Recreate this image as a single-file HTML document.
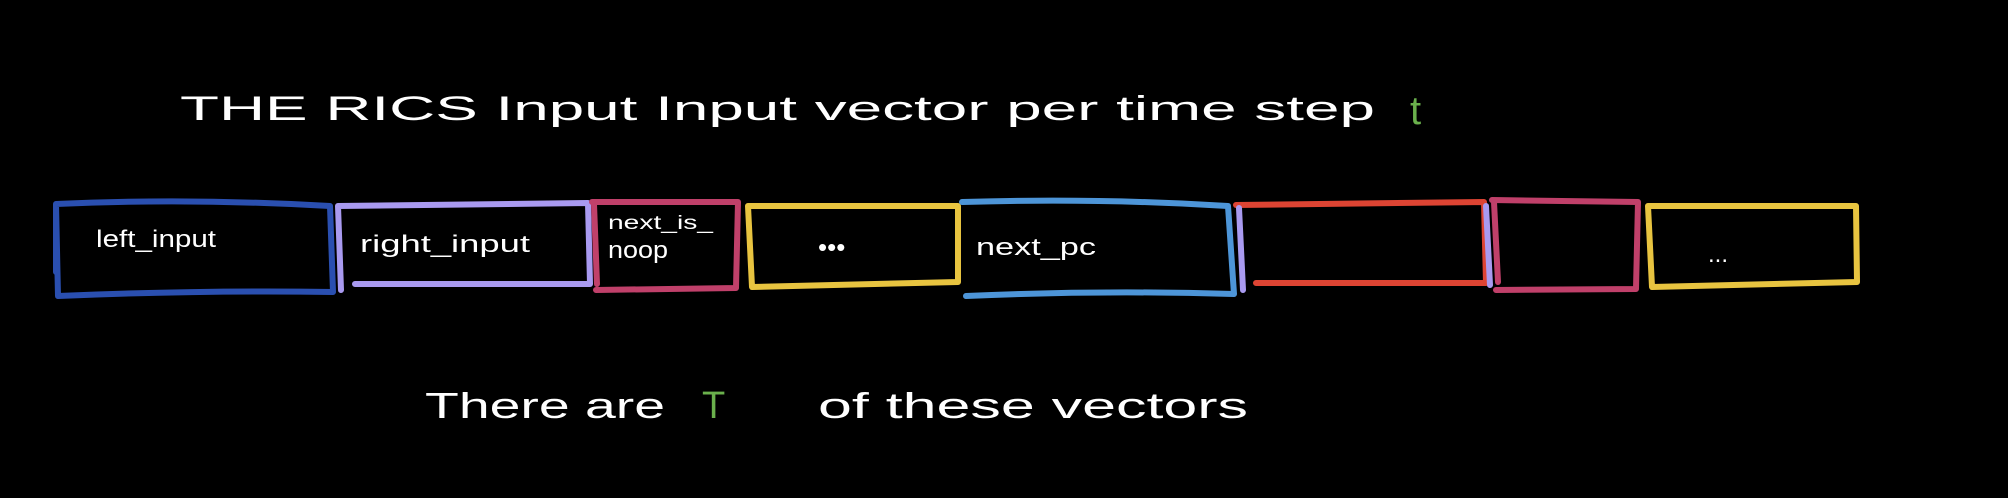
<!DOCTYPE html>
<html><head><meta charset="utf-8"><style>
html,body{margin:0;padding:0;background:#000;}
svg{display:block}
text{font-family:"Liberation Sans",sans-serif;fill:#fff;}
</style></head><body>
<svg width="2008" height="498" viewBox="0 0 2008 498" xmlns="http://www.w3.org/2000/svg">
<rect width="2008" height="498" fill="#000"/>
<g fill="none" stroke-width="6" stroke-linecap="round" stroke-linejoin="round">
<path d="M56 204 Q190 198 330 206 L333 292 Q200 290 58 296 Z M56 204 L56 272" stroke="#2a4fb0"/>
<path d="M338 206 L588 203 L590 284 L355 284 M338 206 L341 290" stroke="#a99af0"/>
<path d="M592 202 L738 202 L736 288 L596 290 M594 204 L597 284" stroke="#c0406a"/>
<path d="M748 206 L958 206 L958 282 L752 287 Z" stroke="#e8c440"/>
<path d="M962 202 Q1100 198 1228 206 L1234 294 Q1100 290 966 296" stroke="#4d95d8"/>
<path d="M1236 205 L1484 202 L1486 283 L1256 283" stroke="#dd4433"/>
<path d="M1239 208 L1243 290 M1486 206 L1490 285" stroke="#a99af0"/>
<path d="M1492 200 L1638 202 L1636 289 L1496 290 M1494 202 L1498 282" stroke="#c0406a"/>
<path d="M1648 206 L1856 206 L1857 282 L1652 287 Z" stroke="#e8c440"/>
</g>
<g font-size="24">
<text x="96" y="247" textLength="120" lengthAdjust="spacingAndGlyphs">left_input</text>
<text x="360" y="252" textLength="170" lengthAdjust="spacingAndGlyphs">right_input</text>
<text x="608" y="229" textLength="105" lengthAdjust="spacingAndGlyphs" font-size="19">next_is_</text>
<text x="608" y="258" textLength="60" lengthAdjust="spacingAndGlyphs">noop</text>
<text x="818" y="256" font-size="26">•••</text>
<text x="976" y="255" textLength="120" lengthAdjust="spacingAndGlyphs">next_pc</text>
<text x="1708" y="262" font-size="24">...</text>
</g>
<text x="180" y="120" font-size="34" textLength="1195" lengthAdjust="spacingAndGlyphs">THE RICS Input Input vector per time step</text>
<text x="1410" y="124" font-size="40" style="fill:#6ab04c">t</text>
<text x="425" y="418" font-size="36" textLength="240" lengthAdjust="spacingAndGlyphs">There are</text>
<text x="702" y="418" font-size="38" style="fill:#6ab04c">T</text>
<text x="818" y="418" font-size="36" textLength="430" lengthAdjust="spacingAndGlyphs">of these vectors</text>
</svg>
</body></html>
